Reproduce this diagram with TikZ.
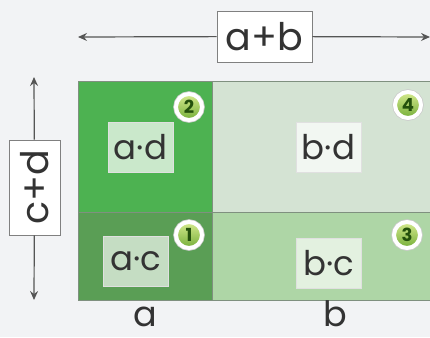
\documentclass[tikz,border=0pt]{standalone}
\usepackage{fontspec}
\setmainfont{Poppins}
\usetikzlibrary{arrows.meta}

\definecolor{bgcol}{HTML}{F2F3F5}
\definecolor{adcol}{HTML}{4DB251}
\definecolor{account}{HTML}{5A9E55}
\definecolor{bdcol}{HTML}{D4E3D3}
\definecolor{bccol}{HTML}{AED6A6}
\definecolor{gridcol}{HTML}{7F907F}
\definecolor{inkcol}{HTML}{333333}
\definecolor{arrowcol}{HTML}{555555}
\definecolor{badgetop}{HTML}{D6EA8E}
\definecolor{badgebot}{HTML}{74AE38}
\definecolor{badgeink}{HTML}{24500C}

\tikzset{
  cell/.style={fill=#1, draw=gridcol, line width=1pt},
  tag/.style={fill=#1, draw=black!12, line width=0.4pt, inner sep=0pt,
    minimum width=65pt, minimum height=50pt, text=inkcol,
    font=\fontsize{34}{34}\selectfont},
  sumbox/.style={fill=white, draw=black!50, line width=0.8pt, inner sep=0pt,
    text=inkcol, font=\fontsize{38}{38}\selectfont},
  sidelabel/.style={text=inkcol, font=\fontsize{35}{35}\selectfont, inner sep=0pt, anchor=base},
  dimarrow/.style={draw=arrowcol, line width=1.2pt, -{Stealth[length=9pt, width=8pt, inset=3pt]}},
  badge/.style={circle, minimum size=26pt, inner sep=0pt,
    top color=badgetop, bottom color=badgebot,
    draw=white, line width=4pt,
    preaction={draw=black!20, line width=5.5pt},
    text=badgeink, font=\fontsize{18}{18}\selectfont\bfseries},
}

\begin{document}
\begin{tikzpicture}[x=1pt, y=-1pt]
  % canvas
  \fill[bgcol] (0,0) rectangle (430,337);
  \useasboundingbox (0,0) rectangle (430,337);

  % the four areas
  \path[cell=adcol]   (78,81)  rectangle (212,212);
  \path[cell=bdcol]   (212,81) rectangle (440,212);
  \path[cell=account] (78,212) rectangle (212,300);
  \path[cell=bccol]   (212,212) rectangle (440,300);

  % area labels
  \node[tag=adcol!30!white]   (ad) at (140.5,147) {a·d};
  \node[tag=bdcol!30!white]   (bd) at (328.5,147.5) {b·d};
  \node[tag=account!35!white] (ac) at (135.5,261) {a·c};
  \node[tag=bccol!35!white]   (bc) at (328.5,263) {b·c};

  % numbered badges
  \node[badge] (n2) at (189,107) {2};
  \node[badge] (n4) at (408,105) {4};
  \node[badge] (n1) at (189,235) {1};
  \node[badge] (n3) at (407,235) {3};

  % width a+b
  \coordinate (wl) at (78,37);
  \coordinate (wr) at (430,37);
  \node[sumbox, minimum width=95pt, minimum height=51pt] (ab) at (264.5,36.5) {a+b};
  \draw[dimarrow] (ab) -- (wl);
  \draw[dimarrow] (ab) -- (wr);

  % height c+d
  \coordinate (ht) at (34,77);
  \coordinate (hb) at (34,300);
  \node[sumbox, rotate=90, minimum width=95pt, minimum height=51pt] (cd) at (34.5,187.5) {c+d};
  \draw[dimarrow] (cd) -- (ht);
  \draw[dimarrow] (cd) -- (hb);

  % side lengths, on a common baseline
  \node[sidelabel] (la) at (145,326) {a};
  \node[sidelabel] (lb) at (335,326) {b};
\end{tikzpicture}
\end{document}
